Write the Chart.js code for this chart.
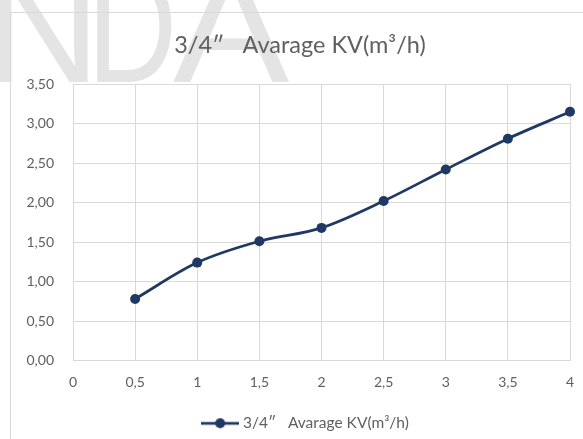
<!DOCTYPE html>
<html>
<head>
<meta charset="utf-8">
<script src="https://cdn.jsdelivr.net/npm/chart.js@4"></script>
<style>
  html, body { margin: 0; padding: 0; background: #fff; overflow: hidden; }
  #wrap { width: 583px; height: 439px; position: relative; }
</style>
</head>
<body>
<div id="wrap"><canvas id="kvChart"></canvas></div>
<script>
// Chart data
const xLabels = ['0', '0,5', '1', '1,5', '2', '2,5', '3', '3,5', '4'];
const kvValues = [null, 0.78, 1.24, 1.51, 1.68, 2.02, 2.42, 2.81, 3.15];
const yMin = 0;
const yMax = 3.5;
const yStep = 0.5;
const seriesName = '3/4\u2033   Avarage KV(m\u00b3/h)';

const navy = '#203864';
const gridGray = '#d9d9d9';
const textGray = '#606060';

// legend icon: a short line with a dot in the middle, like Excel
function makeLegendIcon() {
    const c = document.createElement('canvas');
    c.width = 38;
    c.height = 12;
    const g = c.getContext('2d');
    g.strokeStyle = navy;
    g.lineWidth = 2.75;
    g.beginPath();
    g.moveTo(0, 6);
    g.lineTo(38, 6);
    g.stroke();
    g.fillStyle = navy;
    g.beginPath();
    g.arc(19, 6, 5, 0, Math.PI * 2);
    g.fill();
    return c;
}
const legendIcon = makeLegendIcon();

// faint watermark letters + outer chart border
const backdrop = {
    id: 'backdrop',
    afterLayout(chart) {
        // the Excel chart box is wider than the visible crop, so title and
        // legend sit a bit right of the canvas centre
        chart.titleBlock.left += 30;
        chart.legend.left += 44;
        chart.legend.top += 2;
    },
    beforeDraw(chart) {
        const ctx = chart.ctx;
        ctx.save();
        ctx.fillStyle = '#e4e4e4';
        ctx.font = '160px "Liberation Sans", Arial, sans-serif';
        ctx.textBaseline = 'alphabetic';
        // [letter, x, horizontal squeeze]
        [['N', -15, 1], ['D', 87, 0.78], ['A', 173, 1.09]].forEach(([ch, x, sx]) => {
            ctx.save();
            ctx.translate(x, 82);
            ctx.scale(sx, 1);
            ctx.fillText(ch, 0, 0);
            ctx.restore();
        });
        ctx.strokeStyle = gridGray;
        ctx.lineWidth = 1;
        ctx.strokeRect(10.5, 12.5, 700, 600);
        ctx.restore();
    }
};

const ctx = document.getElementById('kvChart').getContext('2d');
const chart = new Chart(ctx, {
    type: 'line',
    data: {
        labels: xLabels,
        datasets: [{
            label: seriesName,
            data: kvValues,
            borderColor: navy,
            backgroundColor: navy,
            borderWidth: 2.75,
            cubicInterpolationMode: 'monotone',
            pointRadius: 5,
            pointHoverRadius: 5,
            pointBackgroundColor: navy,
            pointBorderColor: navy,
            pointBorderWidth: 0
        }]
    },
    options: {
        responsive: true,
        maintainAspectRatio: false,
        animation: false,
        layout: {
            padding: { left: 0, right: 13, top: 0, bottom: 0 }
        },
        plugins: {
            title: {
                display: true,
                text: seriesName,
                color: textGray,
                font: { family: 'Lato', size: 23.5, weight: 'normal' },
                padding: { top: 31, bottom: 25 }
            },
            legend: {
                position: 'bottom',
                labels: {
                    usePointStyle: true,
                    pointStyleWidth: 30,
                    color: textGray,
                    font: { family: 'Lato', size: 15.5 },
                    padding: 5,
                    generateLabels: function(chart) {
                        return [{
                            text: seriesName,
                            pointStyle: legendIcon,
                            fontColor: textGray,
                            lineWidth: 0,
                            datasetIndex: 0
                        }];
                    }
                }
            },
            tooltip: { enabled: false }
        },
        scales: {
            x: {
                type: 'category',
                offset: false,
                grid: { color: gridGray, drawTicks: false },
                border: { color: gridGray },
                ticks: {
                    color: textGray,
                    font: { family: 'Lato', size: 14 },
                    padding: 14,
                    maxRotation: 0,
                    autoSkip: false
                },
                afterFit: function(scale) {
                    scale.paddingLeft = 0;
                    scale.paddingRight = 0;
                    scale.height = 48;
                }
            },
            y: {
                min: yMin,
                max: yMax,
                grid: { color: gridGray, drawTicks: false },
                border: { display: false },
                ticks: {
                    stepSize: yStep,
                    color: textGray,
                    font: { family: 'Lato', size: 14 },
                    padding: 19,
                    callback: function(value) {
                        return value.toFixed(2).replace('.', ',');
                    }
                },
                afterFit: function(scale) {
                    scale.width = 73;
                }
            }
        }
    },
    plugins: [backdrop]
});
</script>
</body>
</html>
